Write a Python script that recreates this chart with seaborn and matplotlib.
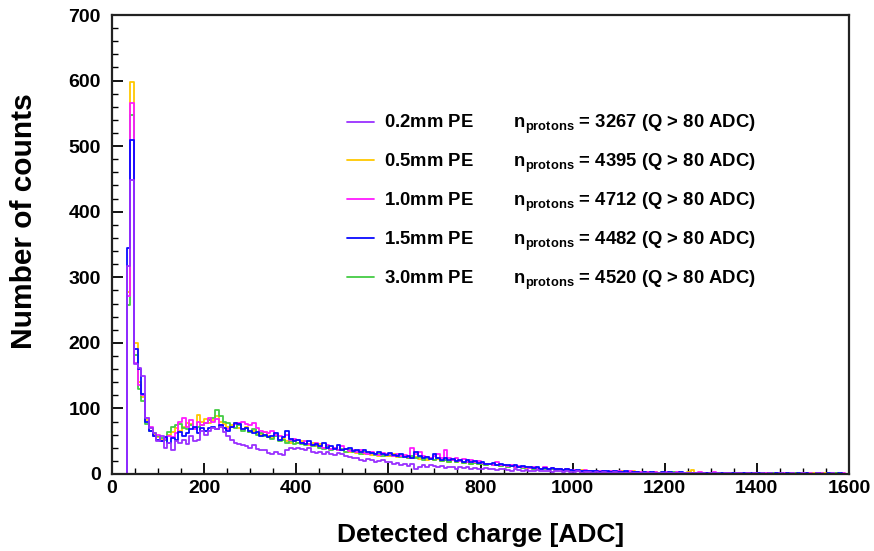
import numpy as np
import pandas as pd
import matplotlib
matplotlib.use("Agg")
import matplotlib.pyplot as plt
from matplotlib.lines import Line2D
import seaborn as sns

# ---------------- data ----------------
bin_width = 8
adc_min, adc_max = 0, 1600

samples = ["0.2mm PE", "0.5mm PE", "1.0mm PE", "1.5mm PE", "3.0mm PE"]
n_protons = [3267, 4395, 4712, 4482, 4520]

counts_02 = [0,0,0,0,317,448,168,162,150,85,70,62,50,58,40,48,36,50,48,52,46,58,50,52,66,
             60,66,70,68,72,64,58,52,48,46,44,42,40,44,38,36,37,32,30,34,31,29,36,40,38,
             40,38,36,40,34,32,34,30,33,31,29,32,30,28,26,24,25,22,20,23,21,18,20,22,19,
             18,16,17,14,15,12,16,8,10,13,11,14,12,10,12,9,11,10,8,10,9,11,8,9,7,
             8,9,7,8,6,7,8,6,5,7,6,5,6,4,5,6,4,5,4,3,5,4,3,4,3,
             3,4,2,3,3,2,3,2,3,2,2,3,2,1,2,2,1,2,1,2,1,1,2,1,1,
             1,2,1,1,2,1,1,1,2,1,1,0,1,1,1,0,1,1,0,1,1,0,1,0,1,
             0,1,0,1,0,0,1,0,0,1,0,0,1,0,0,0,1,0,0,0,1,0,0,0,0]

counts_05 = [0,0,0,0,277,598,200,140,118,82,70,60,56,52,55,60,64,70,66,72,78,76,70,90,80,
             84,78,82,88,80,76,72,74,78,70,68,72,64,66,62,60,64,58,55,60,52,54,50,48,52,
             48,50,46,44,47,42,45,40,42,38,40,37,36,38,34,35,32,33,30,34,29,31,28,30,27,
             28,30,26,28,27,25,24,26,23,25,22,24,21,23,20,22,19,21,18,20,17,19,16,18,15,
             16,14,15,13,14,12,13,11,12,10,11,10,9,10,8,9,8,9,7,8,7,8,6,7,6,
             6,5,6,5,4,5,4,5,4,3,4,4,3,4,3,3,4,3,2,3,3,2,3,2,3,
             2,3,2,3,2,2,3,6,2,2,1,2,2,1,2,1,2,1,1,2,1,1,1,2,1,
             1,1,0,1,1,0,1,0,1,0,1,0,1,0,0,1,0,0,1,0,0,1,0,0,0]

counts_10 = [0,0,0,0,272,566,170,135,120,86,72,58,60,50,54,58,56,62,80,86,72,82,68,80,74,
             78,86,80,84,74,70,68,72,76,78,80,76,74,78,70,66,64,62,66,60,58,56,60,52,54,
             52,48,50,46,44,48,42,40,44,38,40,36,42,38,35,36,33,36,32,30,33,31,29,32,30,
             30,28,31,27,29,26,40,30,34,28,26,24,27,30,25,37,24,22,25,20,23,19,21,18,20,
             17,15,16,14,18,13,14,12,13,11,12,10,11,9,10,9,8,10,7,9,7,8,6,7,6,
             6,5,5,6,4,5,4,4,5,3,4,3,4,3,3,4,2,3,3,2,3,2,3,2,2,
             3,2,2,3,2,2,1,2,2,3,2,1,2,3,2,1,2,1,1,2,1,1,2,1,1,
             1,0,1,1,0,1,0,1,0,1,0,0,1,0,1,0,0,1,0,0,1,0,0,1,0]

counts_15 = [0,0,0,0,344,509,190,160,122,80,65,58,52,50,56,48,55,52,64,58,62,68,72,62,70,
             66,70,72,68,74,70,66,72,78,76,68,70,66,62,64,58,60,56,58,62,52,56,66,54,50,
             52,48,46,50,44,46,42,48,40,42,38,44,36,38,40,35,37,33,36,34,32,30,34,31,29,
             32,29,27,30,26,28,25,33,28,24,26,23,30,25,22,24,21,23,20,22,19,21,18,20,17,
             18,16,15,17,14,16,13,14,12,13,11,12,10,11,9,10,8,9,8,9,7,8,6,7,6,
             5,6,5,4,5,4,5,3,4,4,3,4,3,3,4,2,3,3,2,3,2,3,2,2,3,
             2,3,2,2,3,1,2,2,1,2,2,1,2,1,2,1,1,2,1,1,1,2,1,1,1,
             1,1,0,1,0,1,1,0,1,0,0,1,0,1,0,0,1,0,0,1,0,0,1,0,0]

counts_30 = [0,0,0,0,258,547,182,130,112,76,66,62,58,55,52,64,72,74,76,70,68,74,70,72,74,
             78,82,86,97,88,80,78,72,70,74,66,70,64,68,60,62,58,56,54,58,50,52,48,50,46,
             48,46,44,46,42,44,40,38,42,37,39,36,38,34,36,33,35,31,33,30,32,29,31,28,30,
             29,27,29,26,28,25,27,24,26,22,25,23,21,24,20,22,19,21,18,20,17,18,16,17,15,
             15,14,16,13,14,12,13,11,12,10,11,9,10,9,8,9,7,8,7,8,6,7,6,6,5,
             5,4,5,4,4,3,4,4,3,3,4,3,3,2,3,3,2,3,2,2,3,2,2,2,1,
             2,2,3,2,1,2,2,1,2,1,2,1,1,2,1,1,1,1,2,1,1,1,0,1,1,
             1,0,1,0,1,0,0,1,0,0,1,0,0,1,0,0,0,1,0,0,0,1,0,0,0]

series_counts = {
    "0.2mm PE": counts_02,
    "0.5mm PE": counts_05,
    "1.0mm PE": counts_10,
    "1.5mm PE": counts_15,
    "3.0mm PE": counts_30,
}
colors = {
    "0.2mm PE": "#9a30ff",
    "0.5mm PE": "#ffc800",
    "1.0mm PE": "#ff1aff",
    "1.5mm PE": "#0a0aff",
    "3.0mm PE": "#44cc44",
}
draw_order = ["0.5mm PE", "3.0mm PE", "1.0mm PE", "1.5mm PE", "0.2mm PE"]

n_bins = (adc_max - adc_min) // bin_width
centers = adc_min + bin_width * (np.arange(n_bins) + 0.5)

rows = []
for s in samples:
    for c, v in zip(centers, series_counts[s]):
        rows.append({"adc": float(c), "counts": float(v), "sample": s})
df = pd.DataFrame(rows)

# ---------------- style ----------------
sns.set_style("ticks")
plt.rcParams["font.family"] = ["Liberation Sans", "DejaVu Sans"]
plt.rcParams["font.weight"] = "bold"
plt.rcParams["text.color"] = "black"
plt.rcParams["axes.labelcolor"] = "black"
plt.rcParams["xtick.color"] = "black"
plt.rcParams["ytick.color"] = "black"
plt.rcParams["mathtext.fontset"] = "custom"
plt.rcParams["mathtext.rm"] = "Liberation Sans:bold"
plt.rcParams["mathtext.bf"] = "Liberation Sans:bold"
plt.rcParams["mathtext.it"] = "Liberation Sans:bold"

fig = plt.figure(figsize=(8.74, 5.51), dpi=100)
ax = fig.add_axes([112 / 874, 1 - 474 / 551, (849 - 112) / 874, (474 - 15) / 551])

for s in draw_order:
    sns.histplot(data=df[df["sample"] == s], x="adc", weights="counts",
                 binwidth=bin_width, binrange=(adc_min, adc_max),
                 element="step", fill=False, color=colors[s], linewidth=1.3,
                 ax=ax, legend=False)

ax.set_xlim(adc_min, adc_max)
ax.set_ylim(0, 700)
ax.set_xticks(np.arange(0, 1601, 200))
ax.set_xticks(np.arange(0, 1601, 50), minor=True)
ax.set_yticks(np.arange(0, 701, 100))
ax.set_yticks(np.arange(0, 701, 20), minor=True)

ax.tick_params(axis="both", which="both", direction="in", color="black")
ax.tick_params(axis="both", which="major", length=8, width=1.3, labelsize=14,
               labelcolor="black")
ax.tick_params(axis="both", which="minor", length=4, width=1.0)
ax.tick_params(axis="y", which="major", pad=8)
ax.tick_params(axis="x", which="major", pad=4)
for lab in ax.get_xticklabels() + ax.get_yticklabels():
    lab.set_fontweight("bold")

for side in ["top", "right", "left", "bottom"]:
    ax.spines[side].set_visible(True)
    ax.spines[side].set_linewidth(1.6)
    ax.spines[side].set_color("#222222")

ax.set_xlabel("Detected charge [ADC]", fontsize=19, fontweight="bold", labelpad=19,
              color="black")
ax.set_ylabel("Number of counts", fontsize=21.5, fontweight="bold", color="black")
ax.yaxis.set_label_coords(-0.1004, 0.551)

handles = [Line2D([], [], color=colors[s], linewidth=1.3) for s in samples]
labels = [s + "        " + r"$\mathbf{n}_{\mathbf{protons}}$" + f" = {n} (Q > 80 ADC)"
          for s, n in zip(samples, n_protons)]
leg = ax.legend(handles, labels, loc="upper left", bbox_to_anchor=(0.319, 0.787),
                frameon=False, handlelength=1.45, handletextpad=0.55,
                labelspacing=0.85, borderpad=0, borderaxespad=0,
                prop={"weight": "bold", "size": 13.3})
for t in leg.get_texts():
    t.set_color("black")

fig.savefig("out.png", dpi=100)
